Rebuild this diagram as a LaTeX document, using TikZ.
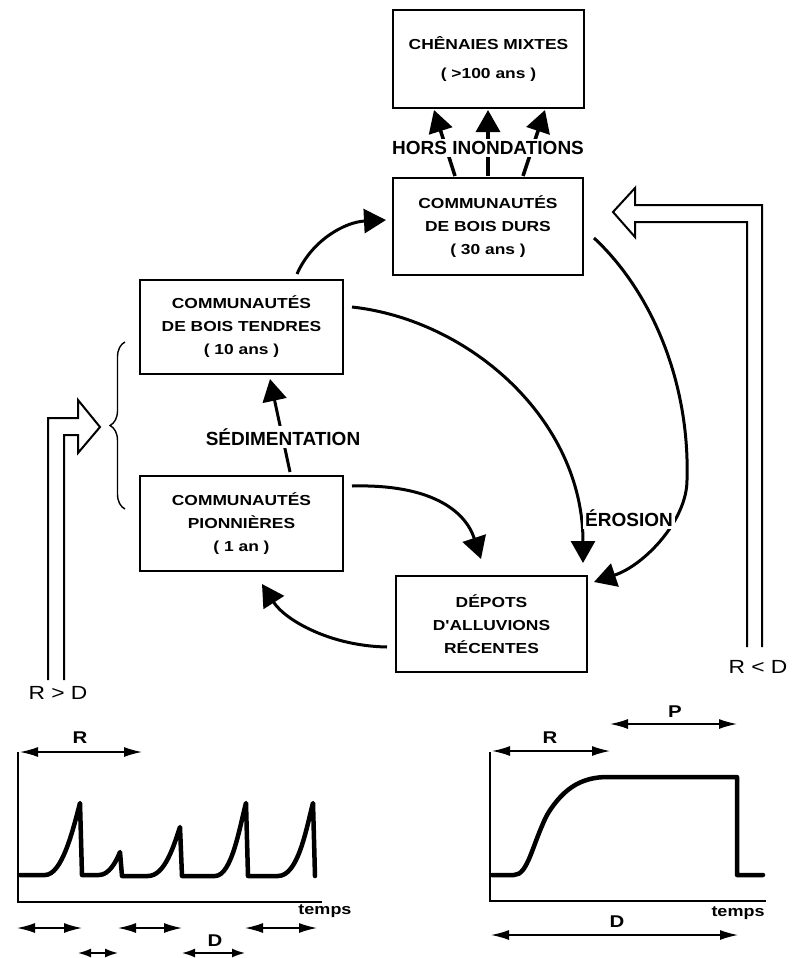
\documentclass[tikz,border=0pt]{standalone}
\usepackage{fontspec}
\setmainfont{Liberation Sans}
\newfontfamily\boxfont[FakeStretch=1.2]{Liberation Sans}
\usetikzlibrary{arrows.meta,decorations.pathreplacing}
\begin{document}
\begin{tikzpicture}[x=1pt,y=-1pt,
  box/.style={draw, line width=2.2pt, outer sep=0pt, inner sep=0pt, align=center,
    font=\boxfont\bfseries\fontsize{14.5}{23}\selectfont},
  bigarrow/.style={line width=3pt, -{Triangle[length=22pt,width=24pt]}},
  lab/.style={font=\bfseries\fontsize{19}{22}\selectfont, fill=white, inner sep=2.5pt},
  rlab/.style={font=\boxfont\fontsize{19}{22}\selectfont},
  clab/.style={font=\boxfont\bfseries\fontsize{17}{20}\selectfont},
  tlab/.style={font=\boxfont\bfseries\fontsize{15}{18}\selectfont},
  hollow/.style={line width=2pt, line join=miter},
  axis/.style={line width=2.5pt},
  curve/.style={line width=4.5pt, line join=round, line cap=round},
  carrow/.style={line width=1.5pt, {Latex[length=18pt,width=10pt]}-{Latex[length=18pt,width=10pt]}},
  sarrow/.style={line width=1.5pt, {Latex[length=13pt,width=9pt]}-{Latex[length=13pt,width=9pt]}}
]
\useasboundingbox (0,0) rectangle (803,958);

% boxes
\node[box, minimum width=191pt, minimum height=98pt] (b1) at (488.5,59) {CHÊNAIES MIXTES\\[6pt]( >100 ans )};
\node[box, minimum width=190pt, minimum height=97pt] (b2) at (488,226.5) {COMMUNAUTÉS\\DE BOIS DURS\\( 30 ans )};
\node[box, minimum width=203pt, minimum height=94pt] (b3) at (241.5,327) {COMMUNAUTÉS\\DE BOIS TENDRES\\( 10 ans )};
\node[box, minimum width=203pt, minimum height=95pt] (b4) at (241.5,523.5) {COMMUNAUTÉS\\PIONNIÈRES\\( 1 an )};
\node[box, minimum width=191pt, minimum height=96pt] (b5) at (491.5,624) {DÉPOTS\\D'ALLUVIONS\\RÉCENTES};

% connectors
\draw[bigarrow] ([xshift=55.5pt,yshift=6pt]b3.north) .. controls (312,240) and (345,222) .. ([xshift=-7pt,yshift=6.5pt]b2.west);
\draw[bigarrow] ([xshift=9pt,yshift=20pt]b3.east) .. controls (470,320) and (583,420) .. ([xshift=91.5pt,yshift=13pt]b5.north);
\draw[bigarrow] ([xshift=11pt,yshift=-11.5pt]b2.east) .. controls (650,290) and (690,380) .. (687,480) .. controls (687,520) and (645,565) .. ([xshift=7pt,yshift=-6pt]b5.north east);
\draw[bigarrow] ([xshift=9pt,yshift=37.5pt]b4.east) .. controls (430,484) and (465,510) .. ([xshift=-10.5pt,yshift=17pt]b5.north);
\draw[bigarrow] ([xshift=-9pt,yshift=-23pt]b5.west) .. controls (330,646) and (285,620) .. ([xshift=20.5pt,yshift=-13pt]b4.south);
\draw[bigarrow] ([xshift=48.5pt,yshift=4pt]b4.north) -- ([xshift=28.5pt,yshift=-5pt]b3.south);
\draw[bigarrow, line width=3.5pt] ([xshift=-33pt,yshift=2pt]b2.north) -- ([xshift=-54.5pt,yshift=-2pt]b1.south);
\draw[bigarrow, line width=3.5pt] ([yshift=2pt]b2.north) -- ([xshift=-0.5pt,yshift=-2pt]b1.south);
\draw[bigarrow, line width=3.5pt] ([xshift=35pt,yshift=2pt]b2.north) -- ([xshift=56.5pt,yshift=-2pt]b1.south);

% labels over connectors
\node[lab] (hors) at (488,148) {HORS INONDATIONS};
\node[lab] (sed) at (283,437) {SÉDIMENTATION};
\node[lab] (ero) at (629,518) {ÉROSION};

% brace
\draw[line width=1.4pt, decorate, decoration={brace, amplitude=15pt}] (125,509) -- (125,342);

% hollow arrows
\draw[hollow] (48,680) -- (48,418) -- (78,418) -- (78,400) -- (100,427) -- (78,453) -- (78,435) -- (64,435) -- (64,680);
\draw[hollow] (762,647) -- (762,205) -- (635,205) -- (635,188) -- (613,212) -- (635,237) -- (635,222) -- (747,222) -- (747,647);
\node[rlab] (rgd) at (58,693) {R > D};
\node[rlab] (rld) at (758,667) {R < D};

% left chart
\draw[axis] (18,752) -- (18,902) -- (322,902);
\draw[curve] (20,875) -- (45,875) .. controls (62,875) and (73,830) .. (80,803) -- (82,875) -- (99,875)
  .. controls (109,875) and (116,862) .. (120,852) -- (122,876) -- (148,876)
  .. controls (165,876) and (174,845) .. (180,827) -- (182,876) -- (215,876)
  .. controls (232,876) and (240,825) .. (246,803) -- (248,876) -- (278,876)
  .. controls (298,876) and (306,830) .. (313,803) -- (315,876);
\draw[carrow] (20,752) -- (142,752);
\node[clab] (lR) at (80,738) {R};
\draw[carrow] (17,928) -- (82,928);
\draw[carrow] (118,928) -- (182,928);
\draw[carrow] (245,928) -- (317,928);
\draw[sarrow] (78,953) -- (118,953);
\draw[sarrow] (182,953) -- (245,953);
\node[clab] (lD) at (215,941) {D};
\node[tlab] (lt) at (325,911) {temps};

% right chart
\draw[axis] (490,752) -- (490,901) -- (766,901);
\draw[curve] (492,875) -- (514,875) .. controls (528,875) and (532,845) .. (547,815)
  .. controls (565,785) and (585,777) .. (608,777) -- (737,777) -- (737,875) -- (763,875);
\draw[carrow] (492,751) -- (610,751);
\node[clab] (rR) at (550,738) {R};
\draw[carrow] (610,724) -- (737,724);
\node[clab] (rP) at (675,712) {P};
\draw[carrow] (491,935) -- (738,935);
\node[clab] (rD) at (617,922) {D};
\node[tlab] (rt) at (738,913) {temps};
\end{tikzpicture}
\end{document}
